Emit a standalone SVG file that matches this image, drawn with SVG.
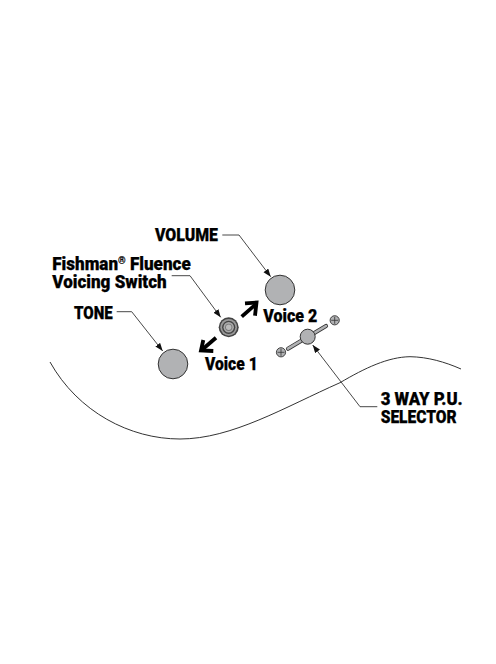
<svg xmlns="http://www.w3.org/2000/svg" width="496" height="664" viewBox="0 0 496 664">
<style>
.l{font-family:Roboto,"Liberation Sans",Arial,sans-serif;font-weight:900;font-size:17.500px;fill:#000;stroke:#000;stroke-width:.25px;}
.lead{fill:none;stroke:#333;stroke-width:.9;marker-end:url(#a);}
.knob{fill:#b1b2b4;stroke:#333;stroke-width:1;}
.big{fill:none;stroke:#000;stroke-width:3.800;}
.scr{fill:#b1b2b4;stroke:#333;stroke-width:.9;}
.x{stroke:#333;stroke-width:.8;fill:none;}
</style>
<defs>
<marker id="a" markerUnits="userSpaceOnUse" markerWidth="9" markerHeight="7" refX="8" refY="3" orient="auto"><path d="M0 0L8 3L0 6z" fill="#111"/></marker>
</defs>
<rect width="496" height="664" fill="#fff"/>
<path id="body-edge" d="M50 362C78 412 130 439 180 439C232 439 285 407 340 382.700C365 368 388 357 410 356.700C428 357 445 362 461 369" fill="none" stroke="#333" stroke-width="1"/>
<g id="connectors">
<path class="lead" d="M222.300 235H239L270.700 276.700"/>
<path class="lead" d="M171.700 275.700H190L220.700 317.300"/>
<path class="lead" d="M116.700 311.700H131.700L162.700 351"/>
<path class="lead" d="M377.300 406.700H360L312.700 345"/>
<path class="big" d="M241.700 316.700L255.700 304.300"/>
<path class="big" d="M245 303.300L256.500 302.500L255 315.700"/>
<path class="big" d="M216 337.700L201.700 350"/>
<path class="big" d="M203.300 340L201 350.500L213.300 351"/>
</g>
<g id="volume"><circle class="knob" cx="280" cy="290" r="14.800"/><text class="l" x="155" y="241" textLength="63" lengthAdjust="spacingAndGlyphs">VOLUME</text></g>
<g id="tone"><circle class="knob" cx="173" cy="364" r="14.800"/><text class="l" x="74" y="318.500" textLength="38.700" lengthAdjust="spacingAndGlyphs">TONE</text></g>
<g id="voicing-switch">
<circle cx="228.700" cy="327.300" r="10" fill="#444"/>
<circle cx="228.700" cy="327.300" r="8.400" fill="#999"/>
<circle cx="228.700" cy="327.300" r="6.600" fill="#444"/>
<circle cx="228.700" cy="327.300" r="5.200" fill="#aaa"/>
<circle cx="228.700" cy="327.300" r="3.600" fill="#777"/>
<circle cx="228.700" cy="327.300" r="2.700" fill="#bbb"/>
<text class="l" x="52.300" y="269.500" textLength="138.400" lengthAdjust="spacingAndGlyphs">Fishman<tspan font-size="10" dy="-6">®</tspan><tspan dy="6"> Fluence</tspan></text>
<text class="l" x="52.300" y="288" textLength="114.400" lengthAdjust="spacingAndGlyphs">Voicing Switch</text>
</g>
<g id="voice-1"><text class="l" x="205" y="370" textLength="52.700" lengthAdjust="spacingAndGlyphs">Voice 1</text></g>
<g id="voice-2"><text class="l" x="263.300" y="322.300" textLength="54" lengthAdjust="spacingAndGlyphs">Voice 2</text></g>
<g id="selector">
<path d="M288 348.700L326 326" stroke="#333" stroke-width="4.200" stroke-linecap="round" fill="none"/>
<path d="M288 348.700L326 326" stroke="#b1b2b4" stroke-width="2.600" stroke-linecap="round" fill="none"/>
<circle class="knob" cx="307.700" cy="336.700" r="7.500"/>
<text class="l" x="380.700" y="405" textLength="82" lengthAdjust="spacingAndGlyphs">3 WAY P.U.</text>
<text class="l" x="380.700" y="422.500" textLength="76" lengthAdjust="spacingAndGlyphs">SELECTOR</text>
</g>
<g id="screw-1"><circle class="scr" cx="281" cy="352.300" r="4.600"/><path class="x" d="M277.500 352.300H284.500M281 348.800V355.800"/></g>
<g id="screw-2"><circle class="scr" cx="334.700" cy="320.300" r="4.600"/><path class="x" d="M331.200 320.300H338.200M334.700 316.800V323.800"/></g>
</svg>
